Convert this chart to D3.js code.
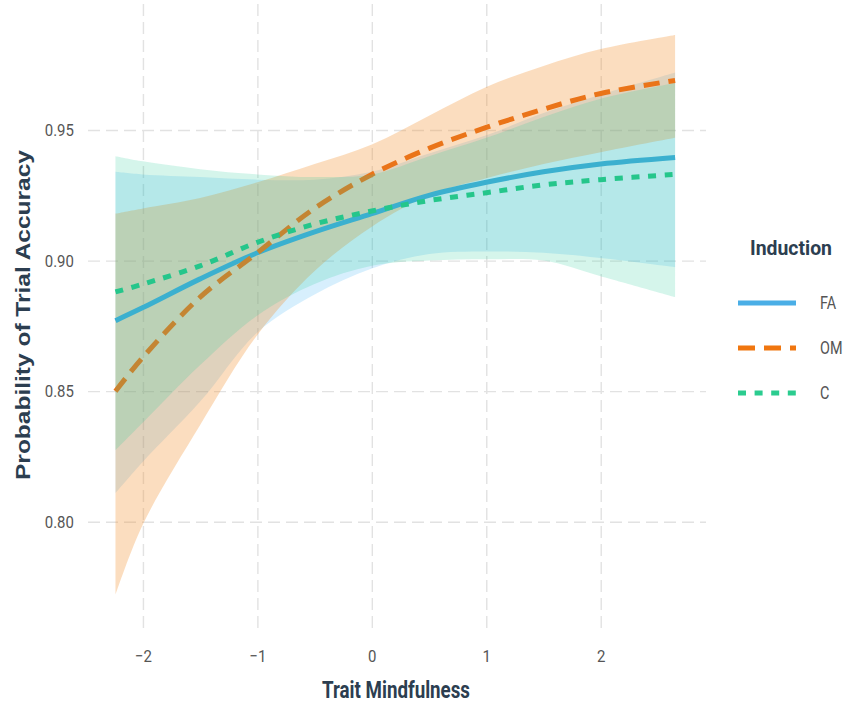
<!DOCTYPE html>
<html>
<head>
<meta charset="utf-8">
<script src="https://cdn.jsdelivr.net/npm/d3@7"></script>
<style>
  body { margin: 0; background: #fff; }
  svg { display: block; }
</style>
</head>
<body>
<div id="wrapper"></div>
<script>
// values
const mindfulness = [-2.24, -2, -1.5, -1, -0.5, 0, 0.5, 1, 1.5, 2, 2.65]

const faFit   = [0.877, 0.882, 0.893, 0.903, 0.911, 0.918, 0.925, 0.930, 0.934, 0.937, 0.9395]
const faLow   = [0.811, 0.823, 0.846, 0.8725, 0.887, 0.897, 0.9025, 0.9035, 0.903, 0.901, 0.8975]
const faHigh  = [0.934, 0.933, 0.932, 0.931, 0.931, 0.934, 0.941, 0.948, 0.9565, 0.9635, 0.972]

const omFit   = [0.850, 0.863, 0.886, 0.903, 0.920, 0.933, 0.943, 0.951, 0.958, 0.964, 0.969]
const omLow   = [0.772, 0.799, 0.837, 0.8715, 0.896, 0.913, 0.925, 0.9315, 0.937, 0.9415, 0.947]
const omHigh  = [0.918, 0.920, 0.924, 0.930, 0.937, 0.9445, 0.9555, 0.9665, 0.9745, 0.981, 0.9864]

const cFit    = [0.888, 0.891, 0.898, 0.907, 0.914, 0.919, 0.923, 0.926, 0.929, 0.931, 0.933]
const cLow    = [0.8274, 0.838, 0.860, 0.879, 0.891, 0.898, 0.900, 0.9005, 0.900, 0.894, 0.886]
const cHigh   = [0.940, 0.938, 0.935, 0.933, 0.932, 0.933, 0.940, 0.947, 0.955, 0.962, 0.968]

const inductions = ["FA", "OM", "C"]
const xTicks = [-2, -1, 0, 1, 2]
const yTicks = [0.80, 0.85, 0.90, 0.95]

function drawChart() {
  const toRows = (fit, low, high) => mindfulness.map((x, i) => ({x, fit: fit[i], low: low[i], high: high[i]}))

  const series = {
    FA: {rows: toRows(faFit, faLow, faHigh), line: "#3fa9dc", fill: "#1fa6f5", fillOpacity: 0.18, dash: null},
    OM: {rows: toRows(omFit, omLow, omHigh), line: "#ea7419", fill: "#f28e2b", fillOpacity: 0.3, dash: "16,9"},
    C:  {rows: toRows(cFit, cLow, cHigh),   line: "#25c68b", fill: "#2ecc9a", fillOpacity: 0.2, dash: "8,8.6"}
  }
  const legendColor = {FA: "#4aaee6", OM: "#f0760f", C: "#2bcc8f"}

  // chart dimensions
  let dimensions = {
    width: 845,
    height: 704,
    margin: {top: 0, right: 139, bottom: 76, left: 88}
  }
  dimensions.boundedWidth = dimensions.width - dimensions.margin.left - dimensions.margin.right
  dimensions.boundedHeight = dimensions.height - dimensions.margin.top - dimensions.margin.bottom

  const wrapper = d3.select("#wrapper")
    .append("svg")
      .attr("width", dimensions.width)
      .attr("height", dimensions.height)

  const bounds = wrapper.append("g")
    .attr("transform", `translate(${dimensions.margin.left},${dimensions.margin.top})`)

  // scales
  const xScale = d3.scaleLinear()
    .domain([-2.48, 2.92])
    .range([0, dimensions.boundedWidth])

  const yScale = d3.scaleLinear()
    .domain([0.7593, 0.9998])
    .range([dimensions.boundedHeight, 0])

  // grid
  const gridX = bounds.append("g")
    .attr("transform", `translate(0,${dimensions.boundedHeight})`)
    .call(d3.axisBottom(xScale).tickValues(xTicks).tickSize(-dimensions.boundedHeight).tickFormat(""))
  const gridY = bounds.append("g")
    .call(d3.axisLeft(yScale).tickValues(yTicks).tickSize(-dimensions.boundedWidth).tickFormat(""))
  ;[gridX, gridY].forEach(g => {
    g.select(".domain").remove()
    g.selectAll("line")
      .attr("stroke", "#e2e2e2")
      .attr("stroke-width", 1.4)
      .attr("stroke-dasharray", "12,6")
  })

  const area = d3.area()
    .x(d => xScale(d.x))
    .y0(d => yScale(d.low))
    .y1(d => yScale(d.high))
    .curve(d3.curveCatmullRom)

  const line = d3.line()
    .x(d => xScale(d.x))
    .y(d => yScale(d.fit))
    .curve(d3.curveCatmullRom)

  const drawRibbon = key => bounds.append("path")
    .datum(series[key].rows)
    .attr("d", area)
    .attr("fill", series[key].fill)
    .attr("fill-opacity", series[key].fillOpacity)

  const drawLine = key => bounds.append("path")
    .datum(series[key].rows)
    .attr("d", line)
    .attr("fill", "none")
    .attr("stroke", series[key].line)
    .attr("stroke-width", 5)
    .attr("stroke-dasharray", series[key].dash)

  // layer order as it appears in the picture
  drawRibbon("FA")
  drawRibbon("OM")
  drawLine("FA")
  drawLine("OM")
  drawRibbon("C")
  drawLine("C")

  // axes
  const xAxis = bounds.append("g")
    .attr("transform", `translate(0,${dimensions.boundedHeight})`)
    .call(d3.axisBottom(xScale).tickValues(xTicks).tickSize(0).tickPadding(22).tickFormat(d3.format("d")))
  const yAxis = bounds.append("g")
    .call(d3.axisLeft(yScale).tickValues(yTicks).tickSize(0).tickPadding(16).tickFormat(d3.format(".2f")))
  ;[xAxis, yAxis].forEach(g => {
    g.select(".domain").remove()
    g.selectAll("text")
      .attr("fill", "#555")
      .style("font-family", "Roboto, 'Liberation Sans', sans-serif")
      .style("font-size", "17px")
      .attr("transform", "scale(0.88,1)")
  })

  wrapper.append("text")
    .attr("x", 396)
    .attr("y", 698)
    .attr("text-anchor", "middle")
    .attr("textLength", 148)
    .attr("lengthAdjust", "spacingAndGlyphs")
    .attr("fill", "#2c3e50")
    .style("font-family", "Roboto, 'Liberation Sans', sans-serif")
    .style("font-weight", "bold")
    .style("font-size", "23px")
    .text("Trait Mindfulness")

  wrapper.append("g")
    .attr("transform", "translate(30,315) scale(0.85,1) rotate(-90)")
    .append("text")
      .attr("text-anchor", "middle")
      .attr("textLength", 330)
      .attr("lengthAdjust", "spacingAndGlyphs")
      .attr("fill", "#2c3e50")
      .style("font-family", "'Liberation Sans', Arial, sans-serif")
      .style("font-weight", "bold")
      .style("font-size", "23px")
      .text("Probability of Trial Accuracy")

  // legend
  const legend = wrapper.append("g")
    .attr("id", "legend")

  legend.append("text")
    .attr("x", 750)
    .attr("y", 255)
    .attr("textLength", 82)
    .attr("lengthAdjust", "spacingAndGlyphs")
    .attr("fill", "#2c3e50")
    .style("font-family", "Roboto, 'Liberation Sans', sans-serif")
    .style("font-weight", "bold")
    .style("font-size", "21px")
    .text("Induction")

  const legendY = d3.scalePoint()
    .domain(inductions)
    .range([303, 393])

  const legendDash = {FA: null, OM: "17,9", C: "8,8.6"}

  const items = legend.selectAll(".item")
    .data(inductions)
    .enter().append("g")
      .attr("class", "item")
      .attr("transform", d => `translate(0,${legendY(d)})`)

  items.append("line")
    .attr("x1", 738)
    .attr("x2", 796)
    .attr("stroke", d => legendColor[d])
    .attr("stroke-width", 5)
    .attr("stroke-dasharray", d => legendDash[d])

  items.append("text")
    .attr("transform", "translate(820,0) scale(0.8,1)")
    .attr("dy", "0.35em")
    .attr("fill", "#555")
    .style("font-family", "Roboto, 'Liberation Sans', sans-serif")
    .style("font-size", "18px")
    .text(d => d)
}

drawChart()
</script>
</body>
</html>
